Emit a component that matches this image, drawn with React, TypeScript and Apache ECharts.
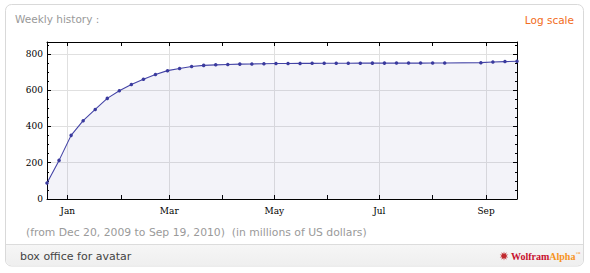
import React, { useEffect, useRef } from "react";
import * as echarts from "echarts";

// Week-ending dates of the cumulative box office series
const weekEnding = [
  "2009-12-20", "2009-12-27", "2010-01-03", "2010-01-10", "2010-01-17", "2010-01-24",
  "2010-01-31", "2010-02-07", "2010-02-14", "2010-02-21", "2010-02-28", "2010-03-07",
  "2010-03-14", "2010-03-21", "2010-03-28", "2010-04-04", "2010-04-11", "2010-04-18",
  "2010-04-25", "2010-05-02", "2010-05-09", "2010-05-16", "2010-05-23", "2010-05-30",
  "2010-06-06", "2010-06-13", "2010-06-20", "2010-06-27", "2010-07-04", "2010-07-11",
  "2010-07-18", "2010-07-25", "2010-08-01", "2010-08-08", "2010-08-29", "2010-09-05",
  "2010-09-12", "2010-09-19",
];
// Cumulative gross, millions of US dollars
const grossMillions = [
  88, 213, 351, 432, 494, 555,
  597, 632, 660, 687, 708, 720,
  731, 737, 740, 742, 744, 745,
  746, 747, 747.5, 748, 748.3, 748.6,
  748.9, 749.1, 749.3, 749.4, 749.5, 749.6,
  749.7, 749.7, 749.8, 749.8, 752, 756,
  758, 760,
];
const rangeStart = "2009-12-20";
const rangeEnd = "2010-09-19";
const monthTicks = [
  "2010-01-01", "2010-02-01", "2010-03-01", "2010-04-01", "2010-05-01",
  "2010-06-01", "2010-07-01", "2010-08-01", "2010-09-01",
];
const monthLabels = ["2010-01-01", "2010-03-01", "2010-05-01", "2010-07-01", "2010-09-01"];
const monthNames = ["Jan", "Feb", "Mar", "Apr", "May", "Jun", "Jul", "Aug", "Sep", "Oct", "Nov", "Dec"];
const yMax = 866;
const yMajor = [0, 200, 400, 600, 800];
const yMinor = [50, 100, 150, 250, 300, 350, 450, 500, 550, 650, 700, 750, 850];

const titleText = "Weekly history :";
const logText = "Log scale";
const subtitleText = "(from Dec 20, 2009 to Sep 19, 2010)  (in millions of US dollars)";
const footerText = "box office for avatar";

function ts(s: string): number {
  const [y, m, d] = s.split("-").map(Number);
  return Date.UTC(y, m - 1, d);
}

function starPoints(cx: number, cy: number, ro: number, ri: number, n: number) {
  const pts: number[][] = [];
  for (let i = 0; i < n * 2; i++) {
    const r = i % 2 === 0 ? ro : ri;
    const a = (Math.PI * i) / n - Math.PI / 2;
    pts.push([cx + r * Math.cos(a), cy + r * Math.sin(a)]);
  }
  return pts;
}

export default function App() {
  const ref = useRef<HTMLDivElement>(null);
  useEffect(() => {
    if (!ref.current) return;
    const chart = echarts.init(ref.current, undefined, { renderer: "svg" });
    const xmin = ts(rangeStart);
    const xmax = ts(rangeEnd);
    const black = "#000";
    const grid = "#e0e0e0";
    const serif = "DejaVu Serif";
    const sans = "DejaVu Sans";
    const data = weekEnding.map((d, i) => [ts(d), grossMillions[i]]);

    const xBase = {
      type: "value" as const,
      min: xmin,
      max: xmax,
      gridIndex: 0,
    };
    const yBase = { type: "value" as const, min: 0, max: yMax, gridIndex: 0 };

    chart.setOption({
      animation: false,
      grid: { left: 47, top: 42, width: 470, height: 157, containLabel: false },
      xAxis: [
        {
          ...xBase,
          position: "bottom",
          axisLine: { show: true, onZero: false, lineStyle: { color: black, width: 1 } },
          axisTick: {
            show: true,
            inside: true,
            length: 4,
            customValues: monthTicks.map(ts),
            lineStyle: { color: black },
          },
          axisLabel: {
            show: true,
            customValues: monthLabels.map(ts),
            formatter: (v: number) => monthNames[new Date(v).getUTCMonth()],
            fontFamily: serif,
            fontSize: 9,
            color: black,
            margin: 7,
          },
          splitLine: { show: false },
        },
        {
          ...xBase,
          position: "bottom",
          axisLine: { show: false },
          axisTick: { show: false, customValues: monthLabels.map(ts) },
          axisLabel: { show: false },
          splitLine: { show: true, lineStyle: { color: grid, width: 1 } },
        },
        {
          ...xBase,
          position: "top",
          axisLine: { show: true, onZero: false, lineStyle: { color: black, width: 1 } },
          axisTick: {
            show: true,
            inside: true,
            length: 4,
            customValues: monthTicks.map(ts),
            lineStyle: { color: black },
          },
          axisLabel: { show: false },
          splitLine: { show: false },
        },
      ],
      yAxis: [
        {
          ...yBase,
          position: "left",
          axisLine: { show: true, onZero: false, lineStyle: { color: black, width: 1 } },
          axisTick: { show: true, inside: true, length: 4, customValues: yMajor, lineStyle: { color: black } },
          axisLabel: {
            show: true,
            customValues: yMajor,
            fontFamily: serif,
            fontSize: 9,
            color: black,
            margin: 4,
          },
          splitLine: { show: true, lineStyle: { color: grid, width: 1 } },
        },
        {
          ...yBase,
          position: "left",
          axisLine: { show: false },
          axisTick: { show: true, inside: true, length: 2, customValues: yMinor, lineStyle: { color: black } },
          axisLabel: { show: false },
          splitLine: { show: false },
        },
        {
          ...yBase,
          position: "right",
          axisLine: { show: true, onZero: false, lineStyle: { color: black, width: 1 } },
          axisTick: { show: true, inside: true, length: 4, customValues: yMajor, lineStyle: { color: black } },
          axisLabel: { show: false },
          splitLine: { show: false },
        },
        {
          ...yBase,
          position: "right",
          axisLine: { show: false },
          axisTick: { show: true, inside: true, length: 2, customValues: yMinor, lineStyle: { color: black } },
          axisLabel: { show: false },
          splitLine: { show: false },
        },
      ],
      series: [
        {
          type: "line",
          xAxisIndex: 0,
          yAxisIndex: 0,
          data,
          symbol: "circle",
          symbolSize: 3.5,
          showSymbol: true,
          lineStyle: { color: "#4444a6", width: 1.1 },
          itemStyle: { color: "#3a3a9e" },
          areaStyle: { color: "rgba(60,60,160,0.062)", opacity: 1 },
          z: 3,
        },
      ],
      graphic: [
        {
          type: "rect",
          z: -10,
          shape: { x: 5.5, y: 4.5, width: 578, height: 261.5, r: 6 },
          style: { fill: "#fff", stroke: "#d9d9d9", lineWidth: 1 },
        },
        {
          type: "rect",
          z: -9,
          shape: { x: 6, y: 244.5, width: 577, height: 21, r: [0, 0, 6, 6] },
          style: {
            fill: new echarts.graphic.LinearGradient(0, 0, 0, 1, [
              { offset: 0, color: "#f6f6f6" },
              { offset: 1, color: "#efefef" },
            ]),
          },
        },
        {
          type: "line",
          z: -8,
          shape: { x1: 6, y1: 244.5, x2: 583, y2: 244.5 },
          style: { stroke: "#dcdcdc", lineWidth: 1 },
        },
        {
          type: "text",
          z: 10,
          x: 15,
          y: 19,
          style: { text: titleText, fill: "#999", font: `10.5px '${sans}'`, verticalAlign: "middle" },
        },
        {
          type: "text",
          z: 10,
          x: 574,
          y: 20,
          style: {
            text: logText,
            fill: "#f26c21",
            font: `10.5px '${sans}'`,
            align: "right",
            verticalAlign: "middle",
          },
        },
        {
          type: "text",
          z: 10,
          x: 26,
          y: 232,
          style: { text: subtitleText, fill: "#9a9a9a", font: `10.8px '${sans}'`, verticalAlign: "middle" },
        },
        {
          type: "text",
          z: 10,
          x: 20,
          y: 256,
          style: { text: footerText, fill: "#444", font: `11px '${sans}'`, verticalAlign: "middle" },
        },
        {
          type: "polygon",
          z: 10,
          shape: { points: starPoints(504, 256, 4.5, 2.2, 10) },
          style: { fill: "#c0282d" },
        },
        {
          type: "text",
          z: 10,
          x: 511,
          y: 256,
          style: {
            text: "{w|Wolfram}{a|Alpha}{t|™}",
            verticalAlign: "middle",
            rich: {
              w: { fill: "#c8102e", fontFamily: "Liberation Serif", fontWeight: "bold", fontSize: 10 },
              a: { fill: "#f7941d", fontFamily: "Liberation Serif", fontWeight: "bold", fontSize: 10 },
              t: { fill: "#f7941d", fontFamily: "Liberation Serif", fontSize: 5, verticalAlign: "top" },
            },
          },
        },
      ],
    });
    return () => chart.dispose();
  }, []);
  return (
    <div
      ref={ref}
      style={{ position: "fixed", left: 0, top: 0, width: 590, height: 273, background: "#fff" }}
    />
  );
}
